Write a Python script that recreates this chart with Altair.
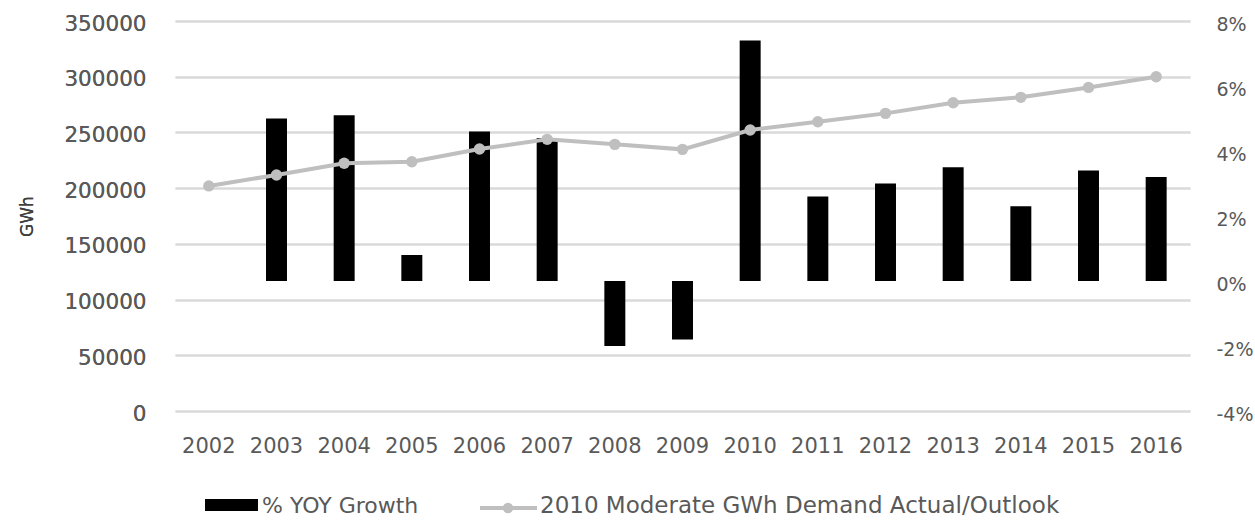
import altair as alt
import pandas as pd

years = [str(y) for y in range(2002, 2017)]
yoy_growth = [None, 0.050, 0.051, 0.008, 0.046, 0.044, -0.020, -0.018,
              0.074, 0.026, 0.030, 0.035, 0.023, 0.034, 0.032]
demand_gwh = [202000, 211800, 222300, 223700, 235100, 243800, 239300, 234800,
              252200, 259600, 267100, 276700, 281500, 290400, 300000]
gwh_ticks = [0, 50000, 100000, 150000, 200000, 250000, 300000, 350000]
pct_ticks = [-0.04, -0.02, 0.0, 0.02, 0.04, 0.06, 0.08]
legend_labels = ["% YOY Growth", "2010 Moderate GWh Demand Actual/Outlook"]

df = pd.DataFrame({"year": years, "growth": yoy_growth, "demand": demand_gwh})

FONT = "DejaVu Sans"
LABEL = "#595959"
GRID = "#d9d9d9"
LINE = "#bfbfbf"

x_enc = alt.X("year:N", title=None, sort=years,
              scale=alt.Scale(paddingInner=0.69),
              axis=alt.Axis(domain=False, ticks=False, labelAngle=0,
                            labelFont=FONT, labelFontSize=21, labelColor=LABEL,
                            labelPadding=24, grid=False))

bars = alt.Chart(df).mark_bar(color="black").encode(
    x=x_enc,
    y=alt.Y("growth:Q", title=None,
            scale=alt.Scale(domain=[-0.04, 0.08], nice=False, zero=False),
            axis=alt.Axis(orient="right", values=pct_ticks,
                          labelExpr="(datum.value < 0 ? '-' : '') + format(abs(datum.value) * 100, '.0f') + '%'",
                          domain=False, ticks=False, grid=False,
                          labelFont=FONT, labelFontSize=19, labelColor=LABEL,
                          labelPadding=26, labelOffset=3)),
)

line_base = alt.Chart(df).encode(
    x=x_enc,
    y=alt.Y("demand:Q", title="GWh",
            scale=alt.Scale(domain=[0, 350000], nice=False),
            axis=alt.Axis(orient="left", values=gwh_ticks, format="d",
                          domain=False, ticks=False, grid=True,
                          gridColor=GRID, gridWidth=2,
                          labelFont=FONT, labelFontSize=21.5, labelColor=LABEL,
                          labelPadding=29, labelOffset=3,
                          titleFont=FONT, titleFontSize=17, titleColor="#404040",
                          titleFontWeight="normal", titlePadding=27)),
)
line = line_base.mark_line(color=LINE, strokeWidth=4)
pts = line_base.mark_circle(color=LINE, size=130, opacity=1)

leg_df = pd.DataFrame({"label": legend_labels})
leg_bar_sw = alt.Chart(leg_df.iloc[[0]]).mark_rect(color="black").encode(
    x=alt.value(30), x2=alt.value(83), y=alt.value(478), y2=alt.value(490))
leg_bar_tx = alt.Chart(leg_df.iloc[[0]]).mark_text(
    align="left", baseline="middle", font=FONT, fontSize=22, color=LABEL).encode(
    x=alt.value(87), y=alt.value(485), text="label:N")
leg_line_sw = alt.Chart(leg_df.iloc[[1]]).mark_rule(color=LINE, strokeWidth=4).encode(
    x=alt.value(305), x2=alt.value(362), y=alt.value(487))
leg_line_pt = alt.Chart(leg_df.iloc[[1]]).mark_circle(color=LINE, size=110, opacity=1).encode(
    x=alt.value(333), y=alt.value(487))
leg_line_tx = alt.Chart(leg_df.iloc[[1]]).mark_text(
    align="left", baseline="middle", font=FONT, fontSize=23, color=LABEL).encode(
    x=alt.value(365), y=alt.value(485), text="label:N")

chart = alt.layer(
    bars, line, pts,
    leg_bar_sw, leg_bar_tx, leg_line_sw, leg_line_pt, leg_line_tx,
).resolve_scale(y="independent").properties(
    width=1015, height=390,
    autosize=alt.AutoSizeParams(type="none"),
    padding={"left": 175, "top": 21, "right": 65, "bottom": 118},
    background="white",
).configure_view(stroke=None)

chart.save("out.html", embed_options={"renderer": "svg", "actions": False})
